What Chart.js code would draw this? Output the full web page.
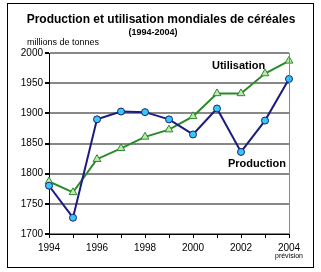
<!DOCTYPE html>
<html><head><meta charset="utf-8">
<script src="https://cdn.jsdelivr.net/npm/chart.js@4/dist/chart.umd.min.js"></script>
<style>html,body{margin:0;padding:0;background:#fff}#c{display:block}</style>
</head><body>
<canvas id="c" width="321" height="272"></canvas>
<script>
const years = [1994,1995,1996,1997,1998,1999,2000,2001,2002,2003,2004];
const production = [1780,1727,1890,1903,1902,1890,1865,1908,1836,1888,1957];
const utilisation = [1787,1769,1824,1842,1861,1873,1895,1933,1933,1966,1987];
const yTicks = [1700,1750,1800,1850,1900,1950,2000];
const xLabels = [1994,1996,1998,2000,2002,2004];

const FONT = '"Liberation Sans", Arial, sans-serif';

const deco = {
  id:'deco',
  beforeDraw(chart){
    const c = chart.ctx;
    c.save();
    c.fillStyle='#fff'; c.fillRect(0,0,chart.width,chart.height);
    c.strokeStyle='#000'; c.lineWidth=1;
    c.strokeRect(7.5,3.5,306,264);
    c.restore();
  },
  afterDatasetsDraw(chart){
    const c = chart.ctx, a = chart.chartArea, xs = chart.scales.x;
    c.save();
    c.strokeStyle='#888'; c.lineWidth=1;
    c.beginPath(); c.moveTo(a.right+0.5,a.top); c.lineTo(a.right+0.5,a.bottom); c.stroke();
    c.fillStyle='#000';
    c.textAlign='center'; c.textBaseline='middle';
    c.font='bold 12px '+FONT;
    c.fillText('Production et utilisation mondiales de céréales',161,20);
    c.font='bold 9px '+FONT;
    c.fillText('(1994-2004)',153,33);
    c.textAlign='left';
    c.font='9px '+FONT;
    c.fillText('millions de tonnes',27,43);
    c.font='bold 11px '+FONT;
    c.fillText('Utilisation',212,66);
    c.fillText('Production',228,164);
    c.textAlign='center';
    c.font='7px '+FONT;
    c.fillText('prévision',xs.getPixelForValue(2004),256);
    c.restore();
  }
};

new Chart(document.getElementById('c'),{
  type:'line',
  data:{
    datasets:[
      {label:'Production',data:years.map((y,i)=>({x:y,y:production[i]})),
       borderColor:'#1c1c80',borderWidth:2,backgroundColor:'#33ccee',
       pointBackgroundColor:'#33ccee',pointBorderColor:'#1c1c80',pointBorderWidth:1,
       pointRadius:3.5,pointStyle:'circle',tension:0,clip:false},
      {label:'Utilisation',data:years.map((y,i)=>({x:y,y:utilisation[i]})),
       borderColor:'#2a8a2a',borderWidth:2,backgroundColor:'#bfe8b0',
       pointBackgroundColor:'#bfe8b0',pointBorderColor:'#2a8a2a',pointBorderWidth:1,
       pointRadius:4.5,pointStyle:'triangle',tension:0,clip:false}
    ]
  },
  options:{
    responsive:false,animation:false,
    layout:{padding:{left:0,top:53,right:32,bottom:0}},
    plugins:{legend:{display:false},tooltip:{enabled:false},title:{display:false}},
    scales:{
      x:{type:'linear',min:1994,max:2004,
        afterBuildTicks:s=>{s.ticks=years.map(v=>({value:v}));},
        afterFit:s=>{s.height=38;},
        grid:{drawOnChartArea:false,drawTicks:true,tickLength:4,tickColor:'#000'},
        border:{color:'#000',width:1},
        ticks:{autoSkip:false,maxRotation:0,padding:4,color:'#000',font:{family:FONT,size:10},
          callback:v=>xLabels.includes(v)?String(v):''}
      },
      y:{min:1700,max:2000,
        afterBuildTicks:s=>{s.ticks=yTicks.map(v=>({value:v}));},
        afterFit:s=>{s.width=49;},
        grid:{color:'#888',lineWidth:2,drawTicks:true,tickLength:4,tickColor:'#000'},
        border:{color:'#000',width:1},
        ticks:{padding:2,color:'#000',font:{family:FONT,size:10},callback:v=>String(v)}
      }
    }
  },
  plugins:[deco]
});
</script>
</body></html>
